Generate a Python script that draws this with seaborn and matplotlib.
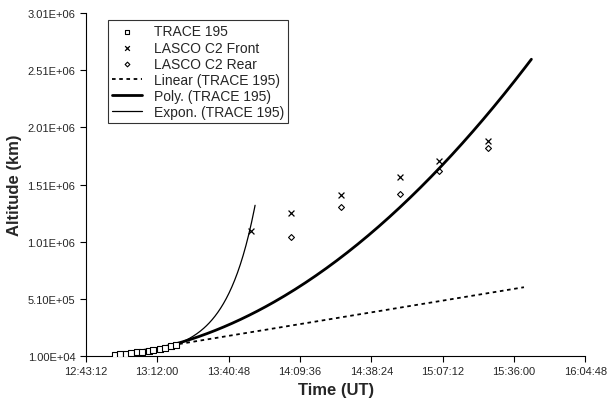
import numpy as np
import pandas as pd
import matplotlib
matplotlib.use("Agg")
import matplotlib.pyplot as plt
import seaborn as sns
from matplotlib.ticker import FuncFormatter


def hms(s):
    h, m, sec = [int(v) for v in s.split(":")]
    return h * 3600 + m * 60 + sec


# TRACE 195 points (time, altitude km)
trace_t = ["12:55:00", "12:57:00", "12:59:30", "13:01:30", "13:04:00", "13:06:00",
           "13:08:30", "13:10:30", "13:13:00", "13:15:00", "13:17:30", "13:19:30"]
trace_alt = [2.0e4, 2.3e4, 2.8e4, 3.3e4, 4.0e4, 4.6e4, 5.4e4, 6.1e4, 7.1e4, 8.0e4, 9.2e4, 1.03e5]

# LASCO C2
front_t = ["13:49:50", "14:06:00", "14:26:10", "14:50:00", "15:05:50", "15:25:30"]
front_alt = [1.106e6, 1.26e6, 1.42e6, 1.58e6, 1.72e6, 1.89e6]
rear_t = ["14:06:00", "14:26:10", "14:50:00", "15:05:50", "15:25:30"]
rear_alt = [1.05e6, 1.31e6, 1.43e6, 1.63e6, 1.83e6]

# trend lines
lin_t = ["12:55:00", "15:40:00"]
lin_alt = [2.0e4, 6.1e5]
poly_t = ["12:55:00", "13:19:30", "14:09:36", "14:38:24", "15:07:12", "15:43:00"]
poly_alt = [2.0e4, 1.0e5, 6.2e5, 1.08e6, 1.7e6, 2.6e6]
expo_t = ["12:55:00", "13:19:30", "13:40:00", "13:51:30"]
expo_alt = [2.0e4, 1.1e5, 5.0e5, 1.35e6]

x_ticks = ["12:43:12", "13:12:00", "13:40:48", "14:09:36", "14:38:24",
           "15:07:12", "15:36:00", "16:04:48"]

sns.set_style("white")
plt.rcParams["font.family"] = ["Liberation Sans", "DejaVu Sans"]

fig, ax = plt.subplots(figsize=(6.13, 4.10), dpi=100)

tr = pd.DataFrame({"t": [hms(s) for s in trace_t], "alt": trace_alt})
fr = pd.DataFrame({"t": [hms(s) for s in front_t], "alt": front_alt})
re = pd.DataFrame({"t": [hms(s) for s in rear_t], "alt": rear_alt})

sns.scatterplot(data=tr, x="t", y="alt", ax=ax, marker="s", s=16, facecolor="white",
                edgecolor="black", linewidth=0.8, label="TRACE 195", zorder=3)
sns.scatterplot(data=fr, x="t", y="alt", ax=ax, marker="x", s=18, color="black",
                linewidth=0.9, label="LASCO C2 Front")
sns.scatterplot(data=re, x="t", y="alt", ax=ax, marker="D", s=9, facecolor="white",
                edgecolor="black", linewidth=0.8, label="LASCO C2 Rear")

lt = np.array([hms(s) for s in lin_t])
xx = np.linspace(lt[0], lt[1], 100)
ax.plot(xx, np.interp(xx, lt, lin_alt), "k", ls=(0, (2, 2)), lw=1.3, label="Linear (TRACE 195)")

pt = np.array([hms(s) for s in poly_t])
c = np.polyfit(pt - pt[0], poly_alt, 2)
xx = np.linspace(pt[0], pt[-1], 200)
ax.plot(xx, np.polyval(c, xx - pt[0]), "k", lw=2.0, label="Poly. (TRACE 195)")

et = np.array([hms(s) for s in expo_t])
c = np.polyfit(et - et[0], np.log(expo_alt), 2)
xx = np.linspace(et[0], et[-1], 200)
ax.plot(xx, np.exp(np.polyval(c, xx - et[0])), "k", lw=0.9, label="Expon. (TRACE 195)")

ax.set_xlim(hms(x_ticks[0]), hms(x_ticks[-1]))
ax.set_xticks([hms(s) for s in x_ticks])
ax.set_xticklabels(x_ticks)
ax.set_ylim(1.0e4, 3.01e6)
ax.set_yticks(np.arange(1.0e4, 3.02e6, 5.0e5))
ax.yaxis.set_major_formatter(FuncFormatter(lambda v, p: "%.2E" % v))
ax.tick_params(direction="out", length=4, labelsize=8, color="black", bottom=True, left=True)
for sp in ["top", "right"]:
    ax.spines[sp].set_visible(False)
for sp in ["left", "bottom"]:
    ax.spines[sp].set_color("black")
ax.set_xlabel("Time (UT)", fontsize=12, fontweight="bold")
ax.set_ylabel("Altitude (km)", fontsize=12, fontweight="bold")

leg = ax.legend(loc="upper left", bbox_to_anchor=(0.03, 1.0), fontsize=10, frameon=True,
                fancybox=False, edgecolor="black", borderpad=0.3, labelspacing=0.15,
                handlelength=2.2, markerscale=0.8)
leg.get_frame().set_linewidth(0.8)

plt.subplots_adjust(left=0.14, right=0.955, top=0.965, bottom=0.13)
fig.savefig("out.png", dpi=100)
